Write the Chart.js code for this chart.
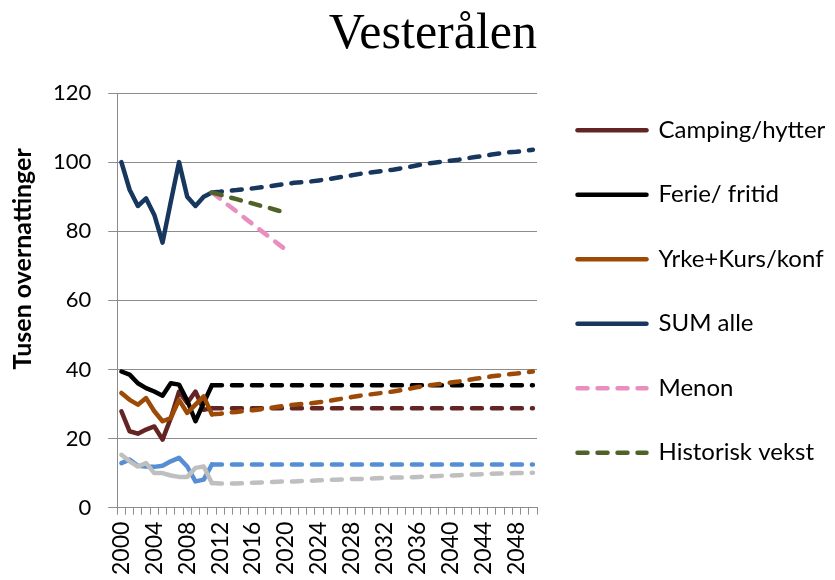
<!DOCTYPE html>
<html>
<head>
<meta charset="utf-8">
<script src="https://cdn.jsdelivr.net/npm/chart.js@4/dist/chart.umd.min.js"></script>
<style>
  html, body { margin: 0; padding: 0; background: #ffffff; }
  #wrap { width: 835px; height: 580px; }
</style>
</head>
<body>
<div id="wrap"><canvas id="c" width="835" height="580"></canvas></div>
<script>
const chartTitle = "Vesterålen";
const yAxisTitle = "Tusen overnattinger";

const years = ["2000","2001","2002","2003","2004","2005","2006","2007","2008","2009",
  "2010","2011","2012","2013","2014","2015","2016","2017","2018","2019",
  "2020","2021","2022","2023","2024","2025","2026","2027","2028","2029",
  "2030","2031","2032","2033","2034","2035","2036","2037","2038","2039",
  "2040","2041","2042","2043","2044","2045","2046","2047","2048","2049","2050"];

const yTicks = [0, 20, 40, 60, 80, 100, 120];

const camping = [27.9,22.1,21.4,22.6,23.5,19.7,25.9,33.6,30.3,33.6,
  28.3,28.8,28.8,28.8,28.8,28.8,28.8,28.8,28.8,28.8,
  28.8,28.8,28.8,28.8,28.8,28.8,28.8,28.8,28.8,28.8,
  28.8,28.8,28.8,28.8,28.8,28.8,28.8,28.8,28.8,28.8,
  28.8,28.8,28.8,28.8,28.8,28.8,28.8,28.8,28.8,28.8,28.8];

const ferie = [39.4,38.5,36.0,34.6,33.6,32.4,36.0,35.6,31.0,25.0,
  30.3,35.4,35.4,35.4,35.4,35.4,35.4,35.4,35.4,35.4,
  35.4,35.4,35.4,35.4,35.4,35.4,35.4,35.4,35.4,35.4,
  35.4,35.4,35.4,35.4,35.4,35.4,35.4,35.4,35.4,35.4,
  35.4,35.4,35.4,35.4,35.4,35.4,35.4,35.4,35.4,35.4,35.4];

const yrke = [33.2,31.2,29.8,31.7,27.9,25.0,25.9,31.2,27.4,29.8,
  32.2,27.0,27.2,27.5,27.7,28.0,28.2,28.5,28.8,29.2,
  29.5,29.8,30.0,30.2,30.5,30.8,31.2,31.6,32.0,32.4,
  32.7,33.0,33.3,33.6,34.0,34.4,34.9,35.3,35.6,35.9,
  36.2,36.5,36.9,37.3,37.6,38.0,38.3,38.6,38.8,39.1,39.4];

const sumAlle = [100.0,92.0,87.3,89.5,84.7,76.7,88.5,100.0,90.0,87.3,
  90.0,91.2,91.4,91.7,91.9,92.2,92.4,92.7,93.0,93.4,
  93.7,94.0,94.2,94.4,94.7,95.0,95.4,95.8,96.2,96.6,
  96.9,97.2,97.5,97.8,98.2,98.6,99.1,99.5,99.8,100.1,
  100.4,100.7,101.1,101.5,101.8,102.2,102.5,102.8,103.0,103.3,103.6];

const menon = [null,null,null,null,null,null,null,null,null,null,
  null,91.2,89.4,87.5,85.7,83.8,82.0,80.1,78.3,76.4,
  74.6,null,null,null,null,null,null,null,null,null,
  null,null,null,null,null,null,null,null,null,null,
  null,null,null,null,null,null,null,null,null,null,null];

const historisk = [null,null,null,null,null,null,null,null,null,null,
  null,91.2,90.6,89.9,89.3,88.6,88.0,87.3,86.7,86.0,
  85.4,null,null,null,null,null,null,null,null,null,
  null,null,null,null,null,null,null,null,null,null,
  null,null,null,null,null,null,null,null,null,null,null];

const lysBla = [12.9,13.9,12.1,11.9,11.8,12.1,13.4,14.4,11.9,7.6,
  8.1,12.5,12.5,12.5,12.5,12.5,12.5,12.5,12.5,12.5,
  12.5,12.5,12.5,12.5,12.5,12.5,12.5,12.5,12.5,12.5,
  12.5,12.5,12.5,12.5,12.5,12.5,12.5,12.5,12.5,12.5,
  12.5,12.5,12.5,12.5,12.5,12.5,12.5,12.5,12.5,12.5,12.5];

const gra = [15.3,13.4,11.9,12.9,10.0,10.0,9.3,8.9,8.9,11.5,
  11.9,7.1,7.0,7.0,7.0,7.1,7.2,7.3,7.4,7.5,
  7.6,7.6,7.7,7.8,7.9,8.0,8.1,8.2,8.3,8.3,
  8.4,8.5,8.6,8.7,8.7,8.8,8.9,9.0,9.1,9.2,
  9.3,9.4,9.5,9.6,9.7,9.8,9.9,9.9,10.0,10.0,10.1];

const DASH = [10, 10];
const FIRST_PROJ = 11; // index of 2011, start of projections
const LEGEND_WIDTH = 298;

function projDash(ctx) {
  return ctx.p0DataIndex >= FIRST_PROJ ? DASH : undefined;
}

function lineDs(label, data, color, opts) {
  return Object.assign({
    label: label,
    data: data,
    borderColor: color,
    backgroundColor: color,
    borderWidth: 4.5,
    borderCapStyle: 'round',
    borderJoinStyle: 'round',
    pointRadius: 0,
    pointHoverRadius: 0,
    tension: 0,
    fill: false,
    spanGaps: false,
    segment: { borderDash: projDash }
  }, opts || {});
}

const datasets = [
  lineDs("Camping/hytter", camping, "#632523", {order: 8}),
  lineDs("Ferie/ fritid", ferie, "#000000", {order: 7}),
  lineDs("Yrke+Kurs/konf", yrke, "#9C4A06", {order: 6}),
  lineDs("SUM alle", sumAlle, "#17375E", {order: 5}),
  lineDs("Menon", menon, "#EA8DBF", {order: 4, borderDash: DASH, segment: {}}),
  lineDs("Historisk vekst", historisk, "#4F6228", {order: 3, borderDash: DASH, segment: {}}),
  lineDs("", lysBla, "#558ED5", {order: 2}),
  lineDs("", gra, "#BFBFBF", {order: 1})
];

const yTitlePlugin = {
  id: 'yTitle',
  beforeUpdate(chart) {
    const lg = chart.legend;
    if (lg && !lg._wPatched) {
      const origFit = lg.fit.bind(lg);
      lg.fit = function () { origFit(); this.width = LEGEND_WIDTH; };
      lg._wPatched = true;
    }
  },
  afterDraw(chart) {
    const ctx = chart.ctx;
    const a = chart.chartArea;
    ctx.save();
    ctx.fillStyle = '#000';
    ctx.translate(23, a.top + (a.bottom - a.top) * 0.40);
    ctx.rotate(-Math.PI / 2);
    ctx.font = 'bold 25px Lato, "Open Sans", sans-serif';
    ctx.textAlign = 'center';
    ctx.textBaseline = 'middle';
    ctx.fillText(yAxisTitle, 0, 0);
    ctx.restore();
  }
};

function legendLabels(chart) {
  return chart.data.datasets
    .map((ds, i) => ({
      text: ds.label,
      datasetIndex: i,
      fillStyle: ds.borderColor,
      strokeStyle: ds.borderColor,
      fontColor: '#000',
      lineWidth: ds.borderWidth,
      lineDash: ds.borderDash || [],
      lineCap: 'round',
      pointStyle: 'line',
      hidden: false
    }))
    .filter(item => item.text !== '');
}

function build() {
  Chart.defaults.font.family = 'Lato, "Open Sans", sans-serif';
  Chart.defaults.color = '#000000';

  new Chart(document.getElementById('c'), {
    type: 'line',
    data: { labels: years, datasets: datasets },
    options: {
      responsive: false,
      animation: false,
      devicePixelRatio: 1,
      layout: { padding: { top: 1, left: 36, right: 0, bottom: -2 } },
      plugins: {
        title: {
          display: true,
          text: chartTitle,
          position: 'top',
          align: 'end',
          fullSize: false,
          color: '#000',
          font: { family: '"Liberation Serif", "Times New Roman", serif', size: 50, weight: 'normal', lineHeight: 1.2 },
          padding: { top: 4, bottom: 28 }
        },
        tooltip: { enabled: false },
        legend: {
          display: true,
          position: 'right',
          labels: {
            usePointStyle: true,
            pointStyle: 'line',
            pointStyleWidth: 69,
            padding: 40.5,
            font: { size: 24 },
            color: '#000',
            generateLabels: legendLabels
          }
        }
      },
      scales: {
        x: {
          type: 'category',
          offset: true,
          grid: { offset: true, drawOnChartArea: false, drawTicks: true, tickLength: 7, color: '#8c8c8c' },
          border: { color: '#8c8c8c', width: 1 },
          ticks: {
            autoSkip: false,
            maxRotation: 90,
            minRotation: 90,
            padding: 7,
            font: { size: 23 },
            callback: function(value, index) { return index % 4 === 0 ? years[index] : ''; }
          }
        },
        y: {
          min: yTicks[0],
          max: yTicks[yTicks.length - 1],
          afterBuildTicks: (axis) => { axis.ticks = yTicks.map(v => ({ value: v })); },
          grid: { color: '#8c8c8c', tickLength: 9, drawTicks: true },
          border: { color: '#8c8c8c', width: 1 },
          ticks: { padding: 17, font: { size: 22 } }
        }
      }
    },
    plugins: [yTitlePlugin]
  });
}

let built = false;
function buildOnce() { if (!built) { built = true; build(); } }
if (document.fonts && document.fonts.load) {
  Promise.all([
    document.fonts.load('22px Lato'),
    document.fonts.load('23px Lato'),
    document.fonts.load('24px Lato'),
    document.fonts.load('bold 25px Lato'),
    document.fonts.load('50px "Liberation Serif"')
  ]).then(buildOnce, buildOnce);
  setTimeout(buildOnce, 1500);
} else {
  buildOnce();
}
</script>
</body>
</html>
